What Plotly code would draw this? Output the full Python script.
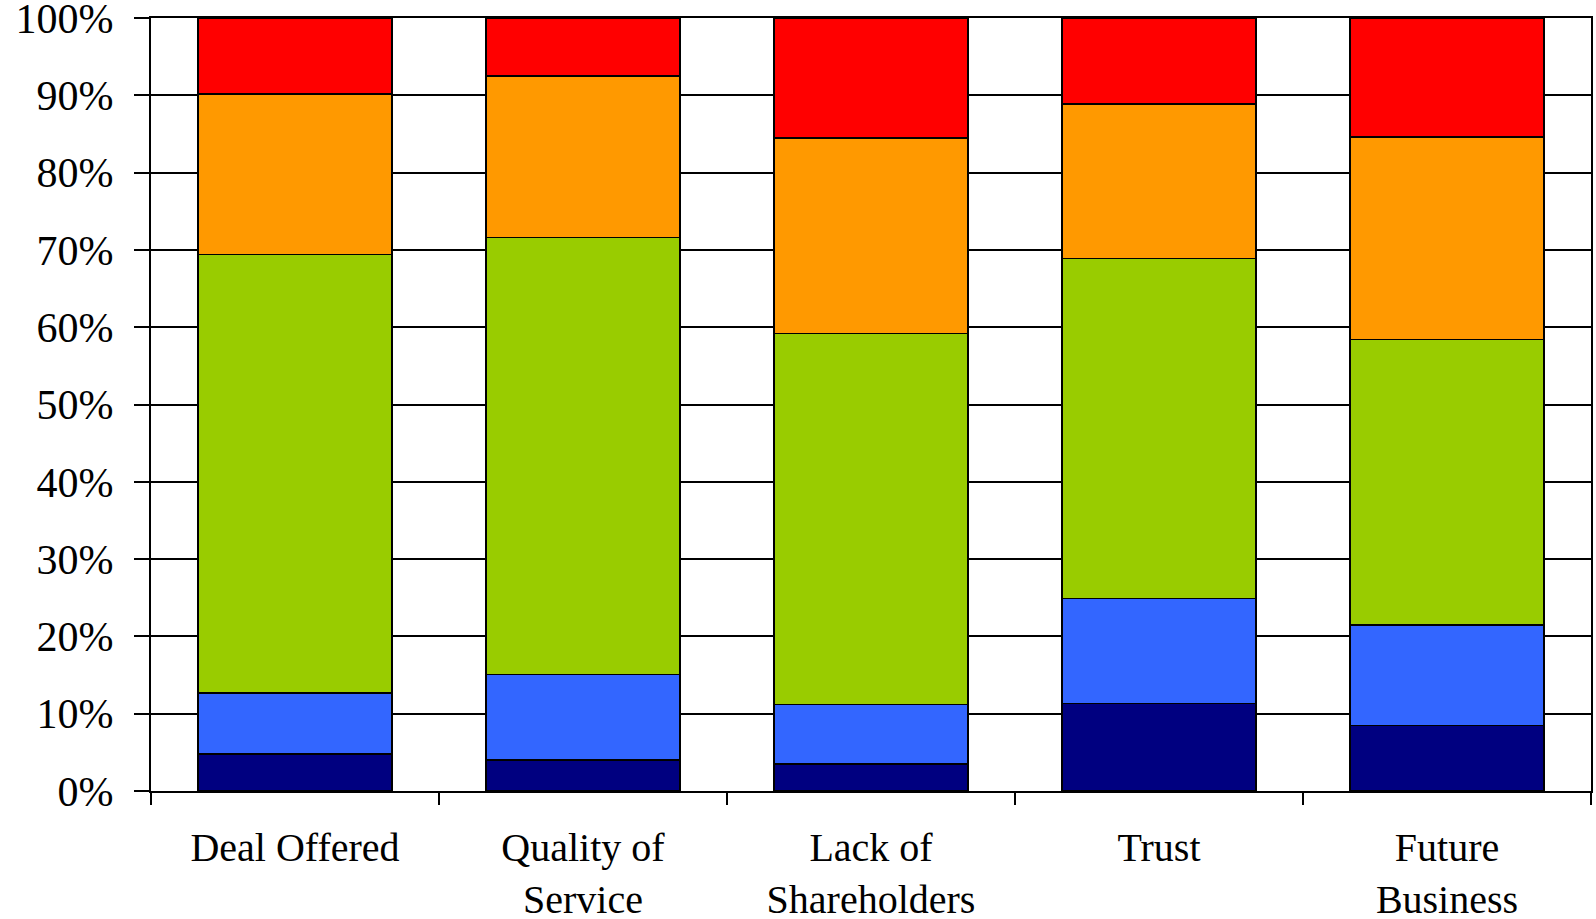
import plotly.graph_objects as go

categories = ["Deal Offered", "Quality of<br>Service", "Lack of<br>Shareholders", "Trust", "Future<br>Business"]

# Share of responses per category (percent), stacked bottom to top
series_1 = [4.8, 4.0, 3.5, 11.3, 8.5]
series_2 = [7.9, 11.1, 7.7, 13.6, 13.0]
series_3 = [56.7, 56.5, 48.0, 44.0, 36.9]
series_4 = [20.8, 20.9, 25.3, 20.0, 26.2]
series_5 = [9.8, 7.5, 15.5, 11.1, 15.4]

series = [series_1, series_2, series_3, series_4, series_5]
colors = ["#000080", "#3366FF", "#99CC00", "#FF9900", "#FF0000"]

fig = go.Figure()
for vals, col in zip(series, colors):
    fig.add_trace(go.Bar(
        x=categories, y=vals,
        marker=dict(color=col, line=dict(color="black", width=1.5)),
        showlegend=False,
    ))

font = dict(family="Liberation Serif, Times New Roman, serif", size=42, color="black")
xfont = dict(family="Liberation Serif, Times New Roman, serif", size=40, color="black")

fig.update_layout(
    barmode="stack",
    bargap=0.326,
    width=1596, height=919,
    margin=dict(l=151, r=5, t=18, b=128, autoexpand=False),
    paper_bgcolor="white",
    plot_bgcolor="white",
    font=font,
    xaxis=dict(
        showline=True, linecolor="black", linewidth=2, mirror=True,
        ticks="outside", ticklen=12, tickwidth=2, tickcolor="black",
        tickson="boundaries", showgrid=False, automargin=False,
        tickfont=xfont, ticklabelstandoff=20,
    ),
    yaxis=dict(
        range=[0, 100], tickvals=list(range(0, 101, 10)),
        ticktext=[f"{v}%" for v in range(0, 101, 10)],
        showline=True, linecolor="black", linewidth=2, mirror=True,
        ticks="outside", ticklen=15, tickwidth=2, tickcolor="black",
        showgrid=True, gridcolor="black", gridwidth=1.5,
        zeroline=False, tickfont=font, ticklabelstandoff=12,
        ticklabeloverflow="allow", automargin=False,
    ),
)

fig.write_html("out.html")
